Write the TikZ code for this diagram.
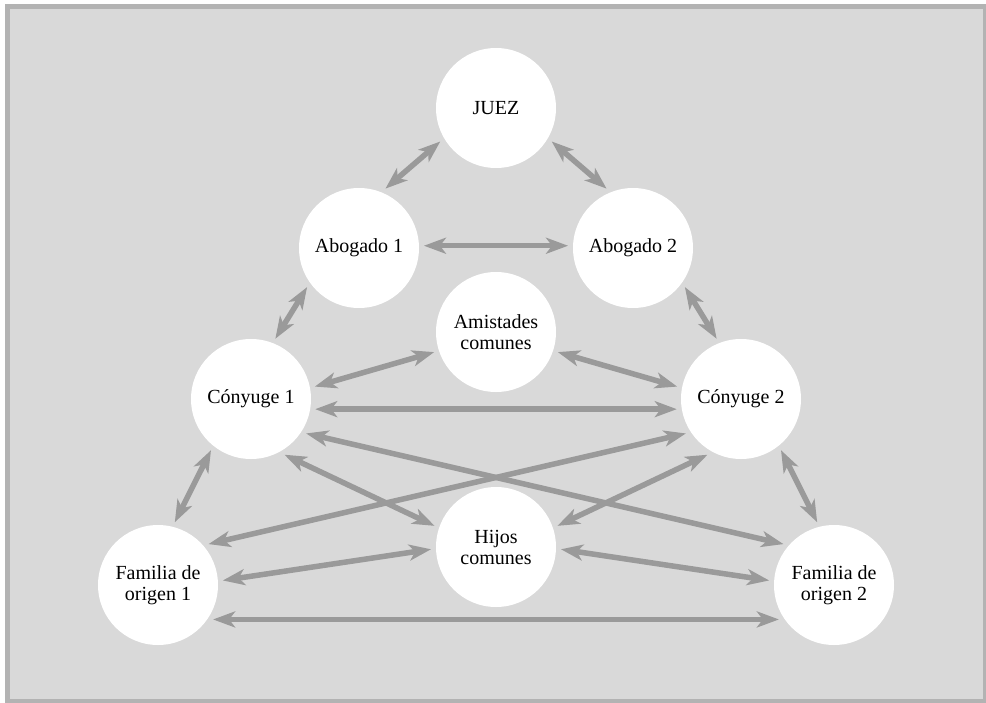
\documentclass[tikz,border=0pt]{standalone}
\usepackage{fontspec}
\setmainfont{Liberation Serif}
\usetikzlibrary{arrows.meta}

\begin{document}
\begin{tikzpicture}[x=1pt, y=-1pt,
    person/.style={circle, fill=white, minimum size=120pt, inner sep=0pt, outer sep=5pt,
        align=center, font=\fontsize{20}{21}\selectfont},
    rel/.style={draw=arrowColour, line width=5.5pt,
        {Stealth[length=22pt,width=16pt,inset=6pt]}-{Stealth[length=22pt,width=16pt,inset=6pt]}}]
    % Define colours
    \definecolor{frameColour}{HTML}{B3B3B3}
    \definecolor{backColour}{HTML}{D9D9D9}
    \definecolor{arrowColour}{HTML}{9A9A9A}

    % Fix the page size
    \useasboundingbox (0,0) rectangle (986,702);

    % Draw background panel
    \filldraw[fill=backColour, draw=frameColour, line width=5pt] (7.5,6.5) rectangle (985.5,701.5);

    % Place the people
    \node[person] (juez) at (496,108) {JUEZ};
    \node[person] (ab1) at (359,248) {Abogado 1};
    \node[person] (ab2) at (633,248) {Abogado 2};
    \node[person] (ami) at (496,332) {Amistades\\comunes};
    \node[person] (con1) at (251,399) {Cónyuge 1};
    \node[person] (con2) at (741,399) {Cónyuge 2};
    \node[person] (hij) at (496,547) {Hijos\\comunes};
    \node[person] (fam1) at (158,585) {Familia de\\origen 1};
    \node[person] (fam2) at (834,585) {Familia de\\origen 2};

    % Draw the relations
    \foreach \a/\b in {juez.211/ab1.66, juez.-31/ab2.114, ab1.2/ab2.178,
        ab1.217/con1.68, ab2.-37/con2.112, ami.198/con1.11, ami.-18/con2.169,
        con1.-9/con2.189, con1.-128/fam1.75, con2.-52/fam2.105,
        con1.-32/fam2.141, con2.-148/fam1.39, con1.-59/hij.161, con2.-121/hij.19,
        hij.182/fam1.4, hij.-2/fam2.176, fam1.-32/fam2.212}
        \draw[rel] (\a) -- (\b);

\end{tikzpicture}
\end{document}
